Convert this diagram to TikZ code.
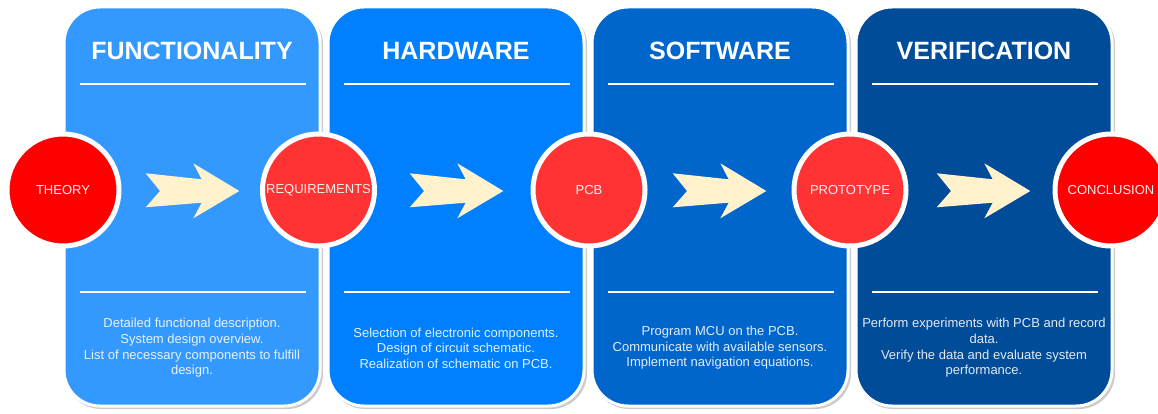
\documentclass[tikz,border=0pt]{standalone}
\usepackage{fontspec}
\setmainfont{Liberation Sans}
\definecolor{pA}{HTML}{3399FF}
\definecolor{pB}{HTML}{0080FF}
\definecolor{pC}{HTML}{0066CC}
\definecolor{pD}{HTML}{004C99}
\definecolor{redA}{HTML}{FF0000}
\definecolor{redB}{HTML}{FF3333}
\definecolor{cream}{HTML}{FFF2CC}
\begin{document}
\begin{tikzpicture}[x=1pt,y=-1pt,
  shadowbox/.style={fill=black!20, rounded corners=36pt, minimum width=258pt, minimum height=400pt, inner sep=0pt, draw=none},
  panel/.style={draw=white, line width=3pt, rounded corners=36pt, minimum width=256pt, minimum height=399pt, inner sep=0pt},
  title/.style={text=white, font=\fontsize{25}{30}\selectfont\bfseries, inner sep=0pt},
  rule/.style={draw=white, line width=1.5pt},
  body/.style={text=white, text opacity=0.88, align=center, font=\fontsize{13}{15.6}\selectfont, inner sep=0pt},
  stage/.style={circle, draw=white, line width=5pt, minimum size=112pt, inner sep=0pt, text=white, text opacity=0.92, font=\fontsize{13}{15}\selectfont},
  fatarrow/.style={fill=cream, draw=none}
]
\useasboundingbox (0,0) rectangle (1158,414);
% shadows
\foreach \cx in {192,456,720,984}{
  \node[shadowbox] at (\cx+2,209) {};
}
% panels
\node[panel, fill=pA] (p1) at (192,206.5) {};
\node[panel, fill=pB] (p2) at (456,206.5) {};
\node[panel, fill=pC] (p3) at (720,206.5) {};
\node[panel, fill=pD] (p4) at (984,206.5) {};
% titles
\node[title] (t1) at (192,50.5) {FUNCTIONALITY};
\node[title] (t2) at (456,50.5) {HARDWARE};
\node[title] (t3) at (720,50.5) {SOFTWARE};
\node[title] (t4) at (984,50.5) {VERIFICATION};
% rules
\foreach \x in {64,328,592,856}{
  \draw[rule] (\x+16,84) -- (\x+242,84);
  \draw[rule] (\x+16,292) -- (\x+242,292);
}
% body texts
\node[body] (b1) at (192,348) {Detailed functional description.\\System design overview.\\List of necessary components to fulfill\\design.};
\node[body] (b2) at (456,348) {Selection of electronic components.\\Design of circuit schematic.\\Realization of schematic on PCB.};
\node[body] (b3) at (720,348) {Program MCU on the PCB.\\Communicate with available sensors.\\Implement navigation equations.};
\node[body] (b4) at (984,348) {Perform experiments with PCB and record\\data.\\Verify the data and evaluate system\\performance.};
% arrows
\foreach \s in {0,264,527,791}{
  \fill[fatarrow, xshift=\s pt] (145.7,173.3) -- (201.7,179.3) -- (193.3,163.3) -- (239.3,191) -- (193.3,218.3) -- (201.7,202.7) -- (145.7,207.3) -- (160,191) -- cycle;
}
% circles
\node[stage, fill=redA] (c1) at (63,190) {THEORY};
\node[stage, fill=redB] (c2) at (318.5,190) {REQUIREMENTS};
\node[stage, fill=redB] (c3) at (589,190) {PCB};
\node[stage, fill=redB] (c4) at (850,190) {PROTOTYPE};
\node[stage, fill=redA] (c5) at (1111,190) {CONCLUSION};
\end{tikzpicture}
\end{document}
